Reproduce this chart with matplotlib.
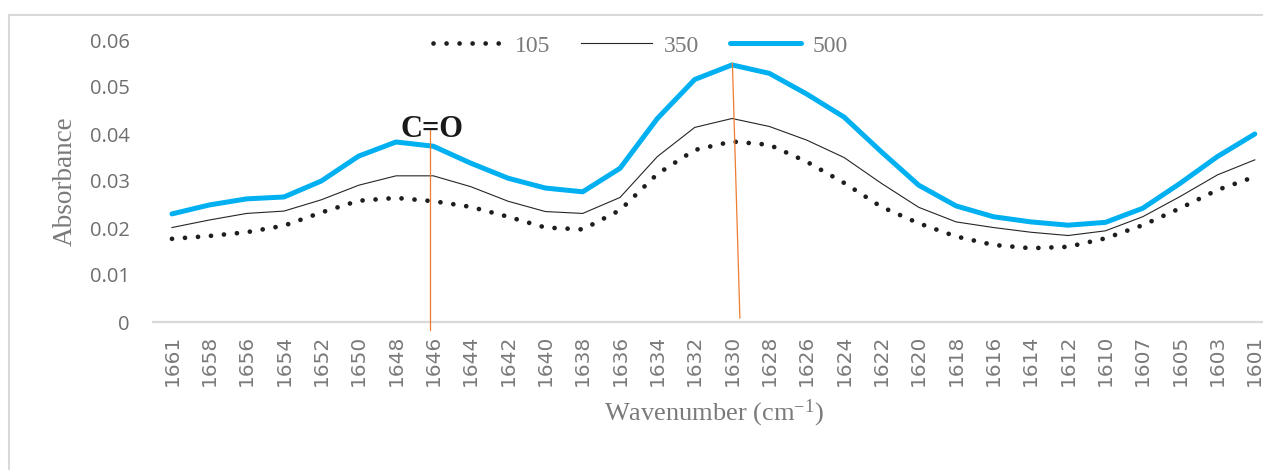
#!/usr/bin/python3

import matplotlib
matplotlib.use("Agg")
import matplotlib.pyplot as plt
from matplotlib.patches import Rectangle

#wavenumber categories, cm^-1
wavenum = [1661, 1658, 1656, 1654, 1652, 1650, 1648, 1646, 1644, 1642,
           1640, 1638, 1636, 1634, 1632, 1630, 1628, 1626, 1624, 1622,
           1620, 1618, 1616, 1614, 1612, 1610, 1607, 1605, 1603, 1601]

#absorbance for the three series
abs_105 = [0.0177, 0.0183, 0.0191, 0.0205, 0.0233, 0.0258, 0.0264, 0.0257, 0.0245, 0.0224,
           0.0201, 0.0197, 0.0238, 0.0315, 0.0366, 0.0384, 0.0377, 0.0341, 0.0296, 0.0245,
           0.0210, 0.0182, 0.0164, 0.0157, 0.0160, 0.0178, 0.0206, 0.0242, 0.0281, 0.0309]

abs_350 = [0.0201, 0.0217, 0.0231, 0.0236, 0.0260, 0.0291, 0.0311, 0.0311, 0.0288, 0.0257,
           0.0235, 0.0231, 0.0265, 0.0352, 0.0414, 0.0433, 0.0416, 0.0387, 0.0350, 0.0295,
           0.0244, 0.0213, 0.0201, 0.0191, 0.0184, 0.0194, 0.0224, 0.0267, 0.0313, 0.0345]

abs_500 = [0.0230, 0.0249, 0.0262, 0.0266, 0.0300, 0.0353, 0.0383, 0.0374, 0.0338, 0.0306,
           0.0285, 0.0277, 0.0327, 0.0433, 0.0516, 0.0547, 0.0529, 0.0485, 0.0436, 0.0362,
           0.0291, 0.0247, 0.0224, 0.0213, 0.0206, 0.0212, 0.0242, 0.0295, 0.0352, 0.0400]

yticks = [0, 0.01, 0.02, 0.03, 0.04, 0.05, 0.06]
ytick_labels = ["0", "0.01", "0.02", "0.03", "0.04", "0.05", "0.06"]

#_____________________________________________________________________________
def main():

    plt.rcParams["mathtext.fontset"] = "custom"
    plt.rcParams["mathtext.rm"] = "Liberation Serif"
    plt.rcParams["mathtext.it"] = "Liberation Serif:italic"

    serif = "Liberation Serif"
    txtcol = "#7a7a7a"

    fig = plt.figure(figsize=(12.63, 4.70), dpi=100)
    ax = fig.add_axes([153.3/1263, 1-322/470, 1-153.3/1263, 282/470])

    xpos = list(range(len(wavenum)))

    ax.plot(xpos, abs_105, color="#1e1e1e", lw=3.4, linestyle=(0, (0.01, 2.75)),
            dash_capstyle="round", label="105", zorder=3)
    ax.plot(xpos, abs_350, color="#262626", lw=0.8, label="350", zorder=3)
    ax.plot(xpos, abs_500, color="#00b0f0", lw=3.6, solid_capstyle="round",
            label="500", zorder=4)

    #annotation lines
    ax.plot([6.91, 6.91], [0.0409, -0.0017], color="#ed7d31", lw=0.9,
            clip_on=False, zorder=5)
    ax.plot([15.01, 15.21], [0.0550, 0.00085], color="#ed7d31", lw=0.9,
            clip_on=False, zorder=5)
    ax.text(6.96, 0.0394, "C=O", ha="center", va="baseline", fontsize=22,
            fontweight="bold", family=serif, color="#1a1a1a", zorder=6)

    ax.set_xlim(-0.5, 29.22)
    ax.set_ylim(0, 0.06)

    ax.set_xticks(xpos)
    ax.set_xticklabels([str(w) for w in wavenum], rotation=90, fontsize=14.5,
                       family="DejaVu Sans", color=txtcol, va="top")
    ax.set_yticks(yticks)
    ax.set_yticklabels(ytick_labels, fontsize=14.5, family="Open Sans", color="#6e6e6e")
    ax.tick_params(axis="both", length=0)
    ax.tick_params(axis="x", pad=9)
    ax.tick_params(axis="y", pad=17)

    for s in ["top", "right", "left"]:
        ax.spines[s].set_visible(False)
    ax.spines["bottom"].set_color("#d9d9d9")
    ax.spines["bottom"].set_linewidth(1.6)

    ax.set_xlabel(r"Wavenumber (cm$^{\mathrm{-1}}$)", fontsize=19, family=serif,
                  color=txtcol, va="center")
    ax.xaxis.set_label_coords(0.505, -0.325)
    ax.set_ylabel("Absorbance", fontsize=19.5, family=serif, color=txtcol, va="center")
    ax.yaxis.set_label_coords(-0.0796, 0.50)

    leg = ax.legend(loc="center", bbox_to_anchor=(0.507, 1-46/470),
                    bbox_transform=fig.transFigure, ncol=3, frameon=False,
                    handlelength=3.0, handletextpad=0.5, columnspacing=1.3,
                    prop={"family": serif, "size": 17})
    for t in leg.get_texts():
        t.set_color(txtcol)

    #chart area border
    fig.patches.append(Rectangle((9/1263, -0.1), 1.2, 1-15/470+0.1, fill=False,
                                 edgecolor="#d9d9d9", lw=1.5,
                                 transform=fig.transFigure, figure=fig))

    fig.savefig("out.png", dpi=100)
    plt.close()

#main

#_____________________________________________________________________________
if __name__ == "__main__":

    main()
